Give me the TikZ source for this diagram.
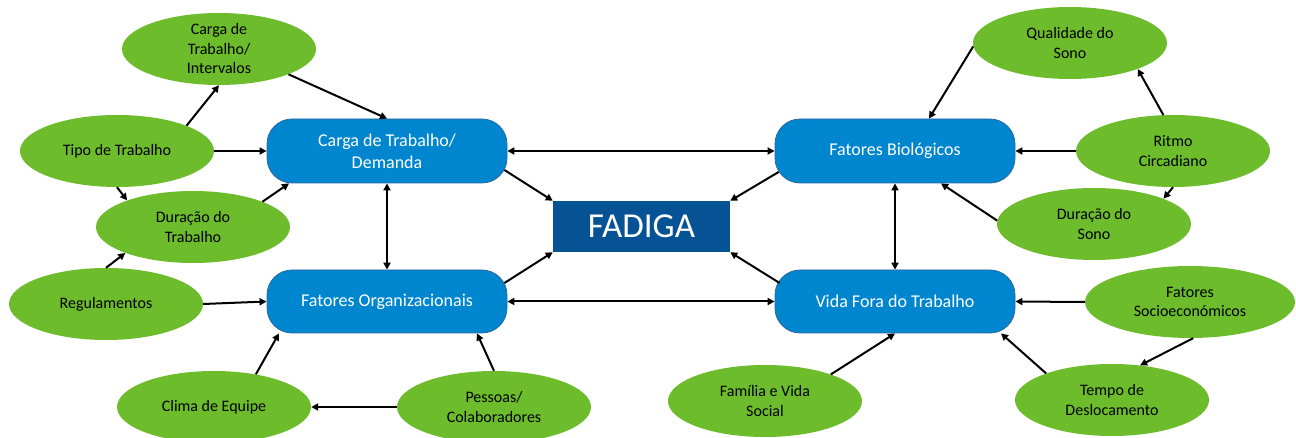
\documentclass[tikz,border=0pt]{standalone}
\usepackage{fontspec}
\setmainfont{Carlito}
\usetikzlibrary{arrows.meta,shapes.geometric}

\definecolor{leafgreen}{RGB}{108,188,44}
\definecolor{boxblue}{RGB}{0,134,206}
\definecolor{boxedge}{RGB}{44,104,160}
\definecolor{coreblue}{RGB}{5,83,148}

\tikzset{
  factor/.style={ellipse, fill=leafgreen, draw=none, inner sep=0pt,
    minimum width=194pt, minimum height=72pt, align=center,
    font=\fontsize{16}{19.5}\selectfont, text=black},
  group/.style={rectangle, rounded corners=25pt, fill=boxblue, draw=boxedge,
    line width=0.8pt, minimum width=240pt, minimum height=64pt, inner sep=0pt,
    align=center, font=\fontsize{18}{22}\selectfont, text=white},
  core/.style={rectangle, fill=coreblue, draw=none, minimum width=177pt,
    minimum height=51pt, inner sep=0pt, font=\fontsize{35}{40}\selectfont, text=white},
  tip/.style={},
  link/.style={line width=2pt, -{Triangle[length=7pt,width=7pt]}},
  both/.style={line width=2pt, {Triangle[length=7pt,width=7pt]}-{Triangle[length=7pt,width=7pt]}}
}

\begin{document}
\begin{tikzpicture}[x=1pt,y=-1pt]
\useasboundingbox (0,0) rectangle (1296,438);

% central node and the four groups
\node[core] (fad) at (641.5,226.5) {FADIGA};
\node[group] (cd) at (387,151) {Carga de Trabalho/\\Demanda};
\node[group, minimum height=63pt] (fo) at (387,301.5) {Fatores Organizacionais};
\node[group] (fb) at (895,151) {Fatores Biológicos};
\node[group, minimum height=63pt] (vf) at (895,301.5) {Vida Fora do Trabalho};

% left factors
\node[factor] (ci) at (219,49) {Carga de\\Trabalho/\\Intervalos};
\node[factor] (tt) at (117,151) {Tipo de Trabalho};
\node[factor] (dt) at (193,227) {Duração do\\Trabalho};
\node[factor] (rg) at (106,304) {Regulamentos};
\node[factor] (ce) at (214,407) {Clima de Equipe};
\node[factor] (pc) at (494,407) {Pessoas/\\Colaboradores};

% right factors
\node[factor] (qs) at (1070,43) {Qualidade do\\Sono};
\node[factor] (rc) at (1173,151) {Ritmo\\Circadiano};
\node[factor] (ds) at (1094,224) {Duração do\\Sono};
\node[factor, minimum width=210pt] (fs) at (1190,302) {Fatores\\Socioeconómicos};
\node[factor] (td) at (1112,400) {Tempo de\\Deslocamento};
\node[factor] (fv) at (765,401) {Família e Vida\\Social};

% links between groups
\draw[both] (cd.south) -- (fo.north);
\draw[both] (cd.east) -- (fb.west);
\draw[both] (fo.east) -- (vf.west);
\draw[both] (fb.south) -- (vf.north);

% groups into the centre
\draw[link] ([xshift=-3pt,yshift=-19pt]cd.east) -- (fad.north west);
\draw[link] ([xshift=-3pt,yshift=18.5pt]fo.east) -- (fad.south west);
\draw[link] ([xshift=4pt,yshift=-21pt]fb.west) -- (fad.north east);
\draw[link] ([xshift=5pt,yshift=18.5pt]vf.west) -- (fad.south east);

% left side
\draw[link] (ci.-20) -- (cd.north);
\draw[link] (tt.20) -- (ci.south);
\draw[link] (tt.east) -- (cd.west);
\draw[link] (tt.south) -- (dt.158);
\draw[link] (dt.20) -- ([xshift=-98pt]cd.south);
\draw[link] (rg.north) -- (dt.201);
\draw[link] (rg.east) -- (fo.west);
\draw[link] (ce.38) -- ([xshift=-108pt]fo.south);
\draw[link] (pc.north) -- ([xshift=90pt]fo.south);
\draw[link] (pc.west) -- (ce.east);

% right side
\draw[link] (qs.182) -- ([xshift=34pt]fb.north);
\draw[link] (rc.105) -- (qs.-21);
\draw[link] (rc.west) -- (fb.east);
\draw[link] (rc.south) -- (ds.20);
\draw[link] (ds.178) -- ([xshift=46pt]fb.south);
\draw[link] (fs.west) -- (vf.east);
\draw[link] (fs.-85) -- (td.51);
\draw[link] (td.158) -- ([xshift=106pt]vf.south);
\draw[link] (fv.22) -- (vf.south);
\end{tikzpicture}
\end{document}
